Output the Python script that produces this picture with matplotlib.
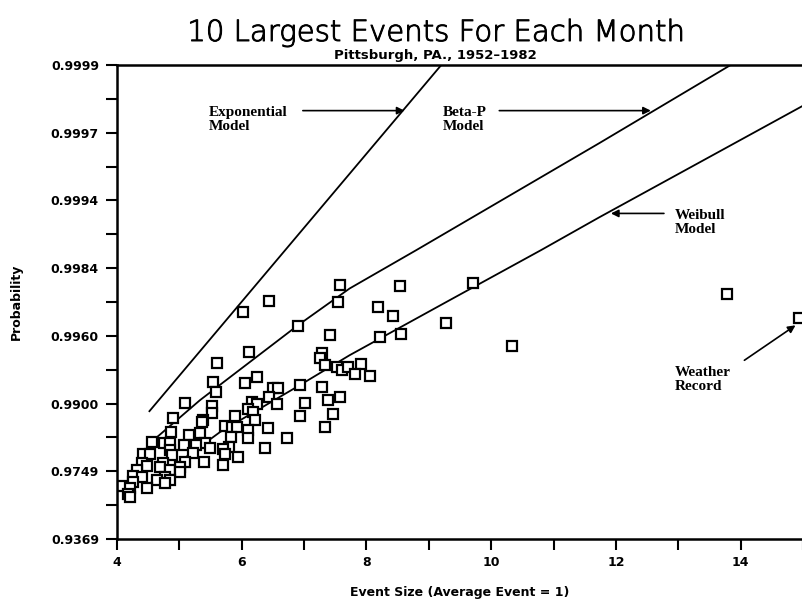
import numpy as np
import matplotlib
matplotlib.use("Agg")
import matplotlib.pyplot as plt
import matplotlib.patheffects as pe
from matplotlib.font_manager import FontProperties
from matplotlib.ticker import FixedLocator, FixedFormatter, NullFormatter

# Observed monthly maxima: event size relative to the average event, and probability
event_size = [6.02, 6.43, 7.58, 7.55, 6.91, 8.18, 8.42, 8.54, 7.41, 8.21, 8.56, 9.28,
              9.71, 10.34, 13.78, 14.93, 6.11, 5.60, 7.28, 7.26, 7.34, 7.52, 7.60, 7.71,
              7.92, 7.81, 8.05, 6.24, 6.06, 5.54, 5.58, 6.94, 7.28, 6.50, 6.58, 6.43,
              6.56, 7.02, 7.39, 7.57, 6.93, 7.46, 7.33, 6.16, 6.24, 6.10, 6.18, 6.21,
              5.52, 5.52, 5.90, 5.38, 6.42, 5.73, 5.84, 5.92, 6.10, 6.72, 5.33, 5.82,
              6.10, 6.37, 5.79, 5.70, 5.73, 5.94, 5.41, 5.49, 5.70, 5.39, 5.09, 4.90,
              5.36, 4.86, 5.15, 4.56, 4.75, 4.85, 5.07, 5.26, 4.85, 4.88, 4.42, 4.53,
              5.22, 4.74, 5.09, 4.40, 4.48, 4.32, 4.69, 5.01, 4.85, 5.01, 4.26, 4.40,
              4.77, 4.85, 4.26, 4.08, 4.64, 4.77, 4.48, 4.21, 4.18, 4.21]
probability = [0.99711, 0.99751, 0.99802, 0.99748, 0.99650, 0.99730, 0.99695, 0.99797,
               0.99605, 0.99594, 0.99610, 0.99664, 0.99805, 0.99541, 0.99774, 0.99687,
               0.99502, 0.99422, 0.99496, 0.99460, 0.99406, 0.99390, 0.99365, 0.99390,
               0.99414, 0.99329, 0.99311, 0.99301, 0.99242, 0.99252, 0.99143, 0.99221,
               0.99200, 0.99189, 0.99189, 0.99083, 0.98992, 0.99006, 0.99045, 0.99083,
               0.98813, 0.98845, 0.98622, 0.99019, 0.98992, 0.98921, 0.98876, 0.98747,
               0.98964, 0.98861, 0.98813, 0.98747, 0.98603, 0.98640, 0.98622, 0.98622,
               0.98564, 0.98400, 0.98505, 0.98422, 0.98400, 0.98168, 0.98192, 0.98143,
               0.98012, 0.97929, 0.98288, 0.98168, 0.97691, 0.97783, 0.99006, 0.98781,
               0.98713, 0.98525, 0.98464, 0.98311, 0.98288, 0.98288, 0.98241, 0.98241,
               0.98117, 0.97985, 0.98012, 0.98012, 0.98039, 0.97753, 0.97783, 0.97753,
               0.97659, 0.97529, 0.97627, 0.97627, 0.97529, 0.97461, 0.97319, 0.97283,
               0.97283, 0.97170, 0.97092, 0.96929, 0.97170, 0.97052, 0.96845, 0.96845,
               0.96576, 0.96434]

# Fitted distributions
exp_size = [4.52, 9.20]
exp_prob = [0.98891, 0.9999]
betap_size = [4.53, 5.33, 6.90, 7.73, 8.80, 11.73, 13.84]
betap_prob = [0.98288, 0.99045, 0.99655, 0.99791, 0.99876, 0.99971, 0.9999]
weibull_size = [4.45, 5.65, 6.93, 7.73, 9.33, 10.80, 11.73, 15.0]
weibull_prob = [0.96887, 0.98525, 0.99221, 0.99482, 0.997545, 0.99876, 0.999205, 0.999826]

# Axis ticks: probability paper with 1 - p = 10**-k
prob_tick_exponents = [1.2, 1.6, 2.0, 2.4, 2.8, 3.2, 3.6, 4.0]
prob_tick_labels = ["0.9369", "0.9749", "0.9900", "0.9960", "0.9984", "0.9994", "0.9997", "0.9999"]
x_ticks = [4, 6, 8, 10, 12, 14]
x_minor_ticks = [5, 7, 9, 11, 13, 15]


def to_paper(p):
    p = np.asarray(p, dtype=float)
    return -np.log10(np.clip(1.0 - p, 1e-12, None))


def from_paper(y):
    y = np.asarray(y, dtype=float)
    return 1.0 - 10.0 ** (-y)


fig = plt.figure(figsize=(8.03, 6.05), dpi=100)
ax = fig.add_axes([117 / 803, 1 - 539 / 605, 1 - 117 / 803, (539 - 65) / 605])
ax.set_yscale("function", functions=(to_paper, from_paper))

ax.plot(exp_size, exp_prob, color="black", lw=1.3)
ax.plot(betap_size, betap_prob, color="black", lw=1.3)
ax.plot(weibull_size, weibull_prob, color="black", lw=1.3)
ax.plot(event_size, probability, linestyle="none", marker="s", ms=6.8,
        mfc="white", mec="black", mew=1.6)

ax.set_xlim(4, 15)
ax.set_ylim(from_paper(prob_tick_exponents[0]), from_paper(prob_tick_exponents[-1]))

major_pos = from_paper(prob_tick_exponents)
minor_pos = from_paper(np.array(prob_tick_exponents[:-1]) + 0.2)
ax.yaxis.set_major_locator(FixedLocator(major_pos))
ax.yaxis.set_major_formatter(FixedFormatter(prob_tick_labels))
ax.yaxis.set_minor_locator(FixedLocator(minor_pos))
ax.yaxis.set_minor_formatter(NullFormatter())
ax.xaxis.set_major_locator(FixedLocator(x_ticks))
ax.xaxis.set_major_formatter(FixedFormatter([str(t) for t in x_ticks]))
ax.xaxis.set_minor_locator(FixedLocator(x_minor_ticks))

tick_font = FontProperties(family="DejaVu Sans", weight="bold", size=9)
for lab in ax.get_xticklabels() + ax.get_yticklabels():
    lab.set_fontproperties(tick_font)
ax.tick_params(which="both", direction="out", length=8, width=1.5, color="black")
ax.tick_params(axis="y", which="both", pad=5)
ax.tick_params(axis="x", which="both", pad=4.5)

for side in ("left", "bottom", "top"):
    ax.spines[side].set_linewidth(1.8)
ax.spines["right"].set_visible(False)

ax.set_xlabel("Event Size (Average Event = 1)", fontsize=9, fontweight="bold", labelpad=12)
ax.set_ylabel("Probability", fontsize=9, fontweight="bold", labelpad=20)

fig.text(436 / 803, 1 - 33 / 605, "10 Largest Events For Each Month",
         ha="center", va="center", fontsize=21, family="DejaVu Sans", fontweight="light",
         color="black", path_effects=[pe.withStroke(linewidth=0.7, foreground="black")])
fig.text(435 / 803, 1 - 55 / 605, "Pittsburgh, PA., 1952\u20131982",
         ha="center", va="center", fontsize=9.5, fontweight="bold", family="DejaVu Sans")

note_font = dict(family="Liberation Serif", fontweight="bold", fontsize=11, linespacing=1.15)
arrow = dict(arrowstyle="-|>", color="black", lw=1.2, mutation_scale=11, shrinkA=0, shrinkB=0)

ax.text(5.47, 0.99979, "Exponential\nModel", ha="left", va="center", **note_font)
ax.annotate("", xy=(8.61, 0.999814), xytext=(6.98, 0.999814), arrowprops=arrow)

ax.text(9.23, 0.99979, "Beta-P\nModel", ha="left", va="center", **note_font)
ax.annotate("", xy=(12.56, 0.999814), xytext=(10.13, 0.999814), arrowprops=arrow)

ax.text(12.94, 0.999149, "Weibull\nModel", ha="left", va="center", **note_font)
ax.annotate("", xy=(11.92, 0.999247), xytext=(12.77, 0.999247), arrowprops=arrow)

ax.text(12.94, 0.99277, "Weather\nRecord", ha="left", va="center", **note_font)
ax.annotate("", xy=(14.88, 0.99655), xytext=(14.06, 0.99445), arrowprops=arrow)

fig.savefig("out.png", dpi=100)
